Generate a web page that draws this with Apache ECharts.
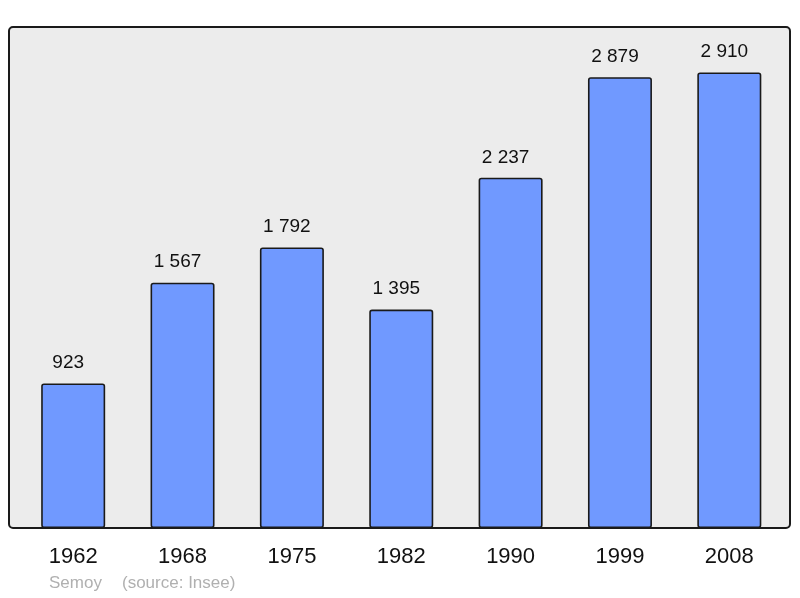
<!DOCTYPE html>
<html><head><meta charset="utf-8">
<script src="https://cdn.jsdelivr.net/npm/echarts@6/dist/echarts.min.js"></script>
<style>html,body{margin:0;padding:0;background:#fff}#c{width:800px;height:598px}</style>
</head><body><div id="c"></div>
<script>
var categories = ['1962','1968','1975','1982','1990','1999','2008'];
var population = [923, 1567, 1792, 1395, 2237, 2879, 2910];
var commune = 'Semoy';
var source = '(source: Insee)';

function fmt(v){ return String(v).replace(/\B(?=(\d{3})+(?!\d))/g, '\u00a0'); }

var chart = echarts.init(document.getElementById('c'));
chart.setOption({
  animation: false,
  textStyle: { fontFamily: 'Liberation Sans, Arial, sans-serif' },
  graphic: [
    { type: 'rect', z: -10, silent: true,
      shape: { x: 9, y: 27, width: 781, height: 501, r: 4 },
      style: { fill: '#ececec', stroke: '#1a1a1a', lineWidth: 2 } },
    { type: 'text', left: 49, top: 575,
      style: { text: commune, fill: '#b0b0b0', font: '17px Liberation Sans, Arial, sans-serif' } },
    { type: 'text', left: 122, top: 575,
      style: { text: source, fill: '#b0b0b0', font: '17px Liberation Sans, Arial, sans-serif' } }
  ],
  grid: { left: 18.5, right: 16, top: 27, bottom: 70 },
  xAxis: {
    type: 'category', data: categories,
    axisLine: { show: false }, axisTick: { show: false },
    axisLabel: { color: '#111', fontSize: 22, margin: 18 }
  },
  yAxis: { type: 'value', min: 0, max: 3200, show: false, splitLine: { show: false } },
  series: [{
    type: 'bar', data: population, barWidth: 64,
    itemStyle: { color: '#7099ff', borderColor: '#1a1a1a', borderWidth: 1.6, borderRadius: 2 },
    label: { show: true, position: 'top', distance: 11, offset: [-5, 0], color: '#111', fontSize: 19,
      formatter: function(p){ return fmt(p.value); } }
  }]
});
</script></body></html>
